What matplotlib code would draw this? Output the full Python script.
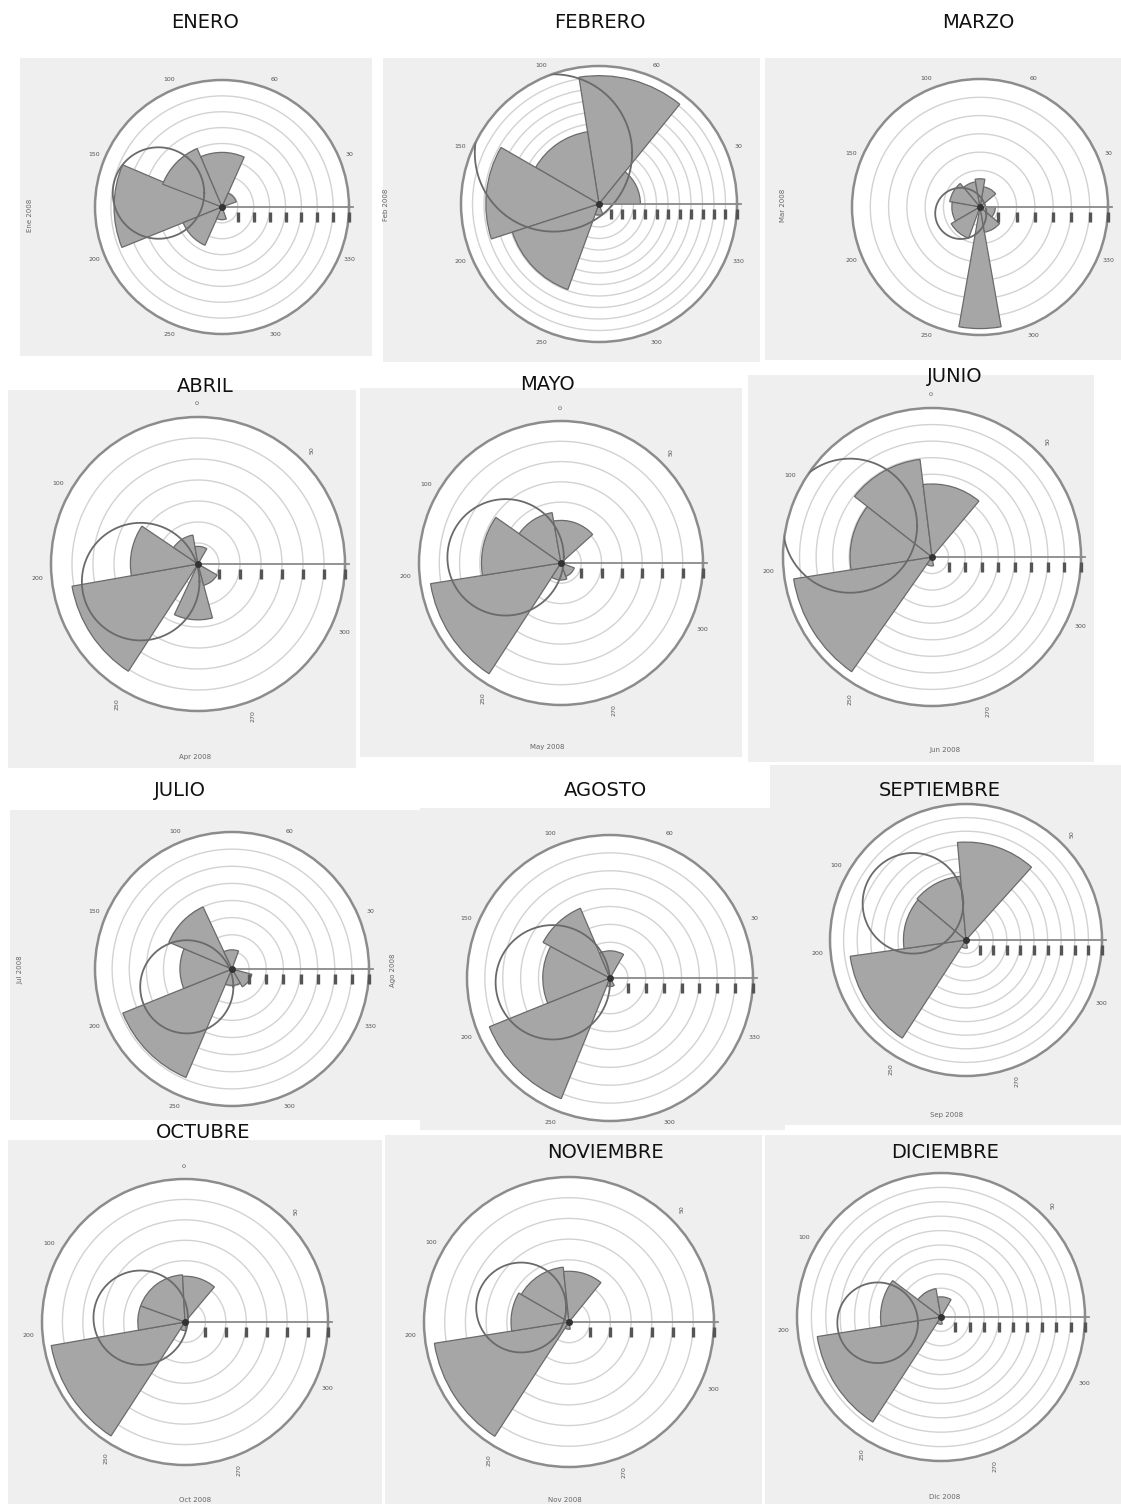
import numpy as np
import matplotlib
matplotlib.use("Agg")
import matplotlib.pyplot as plt
from matplotlib.patches import Rectangle
from matplotlib.transforms import offset_copy

# ---------------- DATA ----------------
months = ["ENERO", "FEBRERO", "MARZO", "ABRIL", "MAYO", "JUNIO",
          "JULIO", "AGOSTO", "SEPTIEMBRE", "OCTUBRE", "NOVIEMBRE", "DICIEMBRE"]
date_labels = ["Ene 2008", "Feb 2008", "Mar 2008", "Apr 2008", "May 2008", "Jun 2008",
               "Jul 2008", "Ago 2008", "Sep 2008", "Oct 2008", "Nov 2008", "Dic 2008"]

# sectors per month: start direction (deg), end direction (deg), relative length
sector_start = [
    [157, 66, 113, 202, 246, 20],
    [51, 99, 150, 198, 0, 250],
    [260, 100, 130, 170, 210, 280, 40, 80, 320],
    [190, 146, 100, 245, 60, 285],
    [189, 145, 100, 42, 237, 290],
    [189, 142, 97, 50, 235],
    [202, 157, 115, 70, 300, 247],
    [202, 152, 113, 60, 248],
    [188, 140, 95, 48, 237],
    [190, 160, 93, 50, 237],
    [189, 150, 96, 51, 237],
    [189, 143, 100, 60, 237],
]
sector_end = [
    [202, 113, 159, 246, 290, 66],
    [99, 150, 198, 250, 51, 290],
    [280, 130, 170, 210, 250, 320, 80, 100, 360],
    [237, 190, 146, 285, 100, 330],
    [237, 189, 145, 100, 290, 340],
    [235, 189, 142, 97, 280],
    [247, 202, 157, 115, 345, 300],
    [248, 202, 152, 113, 300],
    [237, 188, 140, 95, 280],
    [237, 190, 160, 93, 280],
    [237, 189, 150, 96, 280],
    [237, 189, 143, 100, 280],
]
sector_len = [
    [0.85, 0.43, 0.50, 0.33, 0.10, 0.12],
    [0.93, 0.53, 0.82, 0.66, 0.30, 0.08],
    [0.95, 0.20, 0.24, 0.22, 0.26, 0.20, 0.16, 0.22, 0.12],
    [0.87, 0.46, 0.20, 0.38, 0.12, 0.15],
    [0.93, 0.56, 0.36, 0.30, 0.12, 0.10],
    [0.94, 0.55, 0.66, 0.49, 0.06],
    [0.86, 0.38, 0.50, 0.14, 0.15, 0.12],
    [0.91, 0.47, 0.53, 0.19, 0.06],
    [0.86, 0.46, 0.47, 0.72, 0.06],
    [0.95, 0.33, 0.33, 0.32, 0.06],
    [0.94, 0.40, 0.38, 0.35, 0.05],
    [0.87, 0.42, 0.20, 0.14, 0.05],
]
# mean circle per month: centre x, centre y, radius (relative units)
mean_cx = [-0.50, -0.33, -0.15, -0.39, -0.39, -0.55, -0.33, -0.40, -0.39, -0.31, -0.33, -0.44]
mean_cy = [0.11, 0.37, -0.05, -0.12, 0.04, 0.21, -0.13, -0.03, 0.27, 0.03, 0.10, -0.04]
mean_r = [0.36, 0.57, 0.20, 0.40, 0.41, 0.45, 0.34, 0.40, 0.37, 0.33, 0.31, 0.28]
n_rings = [8, 12, 7, 7, 7, 9, 8, 8, 10, 7, 7, 10]

angle_labels_a = ["30", "60", "100", "150", "200", "250", "300", "330"]
angle_labels_b = ["0", "50", "100", "200", "250", "270", "300"]

# ---------------- LAYOUT (pixels) ----------------
W, H = 1121, 1504
centers = [(222, 207, 127), (599, 204, 138), (980, 207, 128),
           (198, 564, 147), (561, 563, 142), (932, 557, 149),
           (232, 969, 137), (610, 978, 143), (966, 940, 136),
           (185, 1322, 143), (569, 1322, 145), (941, 1317, 144)]
backgrounds = [(20, 58, 372, 356), (383, 58, 760, 362), (765, 58, 1121, 360),
               (8, 390, 356, 768), (360, 388, 742, 757), (748, 375, 1094, 762),
               (10, 810, 420, 1120), (420, 808, 785, 1130), (770, 765, 1121, 1125),
               (8, 1140, 382, 1504), (385, 1135, 762, 1504), (765, 1135, 1121, 1504)]
titles_xy = [(205, 22), (600, 22), (978, 22), (205, 386), (547, 385), (955, 377),
             (180, 790), (605, 790), (940, 790), (203, 1133), (605, 1152), (945, 1152)]
date_pos = [(30, 215, 90), (386, 205, 90), (783, 205, 90),
            (195, 757, 0), (547, 747, 0), (945, 750, 0),
            (20, 970, 90), (393, 970, 90), (947, 1115, 0),
            (195, 1500, 0), (565, 1500, 0), (945, 1497, 0)]
style_a = (0, 1, 2, 6, 7)
top_label_hidden = (8, 10, 11)
angles_a = [22.5, 67.5, 112.5, 157.5, 202.5, 247.5, 292.5, 337.5]
angles_b = [90, 45, 150, 185, 240, 290, 335]
rot_b = [90, 90, 0, 0, 90, 90, 0]

fig = plt.figure(figsize=(W / 100, H / 100), dpi=100)
fig.patch.set_facecolor("white")

def fx(x):
    return x / W

def fy(y):
    return 1 - y / H

for i, m in enumerate(months):
    x0, y0, x1, y1 = backgrounds[i]
    fig.add_artist(Rectangle((fx(x0), fy(y1)), (x1 - x0) / W, (y1 - y0) / H,
                             transform=fig.transFigure, facecolor="#efefef",
                             edgecolor="none", zorder=-5))

for i, m in enumerate(months):
    cx, cy, R = centers[i]
    ax = fig.add_axes([fx(cx - R), fy(cy + R), 2 * R / W, 2 * R / H], projection="polar")
    ax.set_ylim(0, 1)
    ax.set_xticks([])
    ax.set_yticks([])
    ax.grid(False)
    ax.set_facecolor("white")
    ax.spines["polar"].set_color("#8c8c8c")
    ax.spines["polar"].set_linewidth(1.8)

    th = np.linspace(0, 2 * np.pi, 361)
    n = n_rings[i]
    for k in range(1, n):
        ax.plot(th, np.full_like(th, k / n), color="#d2d2d2", lw=1.0, zorder=1)

    s = np.array(sector_start[i], float)
    e = np.array(sector_end[i], float)
    L = np.array(sector_len[i], float)
    ax.bar(np.deg2rad((s + e) / 2), L, width=np.deg2rad(e - s), bottom=0,
           color="#a6a6a6", edgecolor="#6a6a6a", linewidth=0.9, zorder=2)

    t = np.linspace(0, 2 * np.pi, 400)
    xx = mean_cx[i] + mean_r[i] * np.cos(t)
    yy = mean_cy[i] + mean_r[i] * np.sin(t)
    ax.plot(np.arctan2(yy, xx), np.hypot(xx, yy), color="#6a6a6a", lw=1.3, zorder=3)

    ax.plot([0, 0], [0, 1.03], color="#8a8a8a", lw=1.3, zorder=4, clip_on=False)
    trans = offset_copy(ax.transData, fig=fig, x=0, y=-10, units="dots")
    ax.plot(np.zeros(n), np.arange(1, n + 1) / n, ls="none", marker="|", ms=7,
            mew=2.4, color="#555555", transform=trans, clip_on=False, zorder=4)
    ax.plot([0], [0], marker="o", ms=4, color="#333333", zorder=5)

    if i in style_a:
        for a, lab in zip(angles_a, angle_labels_a):
            ax.text(np.deg2rad(a), 1.09, lab, fontsize=4.5, color="#555555",
                    ha="center", va="center")
    else:
        for a, lab, rt in zip(angles_b, angle_labels_b, rot_b):
            if a == 90 and i in top_label_hidden:
                continue
            ax.text(np.deg2rad(a), 1.1, lab, fontsize=4.5, color="#555555",
                    ha="center", va="center", rotation=rt)

    tx, ty = titles_xy[i]
    fig.text(fx(tx), fy(ty), m, fontsize=14, ha="center", va="center",
             color="#111111", family="DejaVu Sans")
    dx, dy, drot = date_pos[i]
    fig.text(fx(dx), fy(dy), date_labels[i], fontsize=5, ha="center", va="center",
             color="#666666", rotation=drot)

fig.savefig("out.png", dpi=100)
